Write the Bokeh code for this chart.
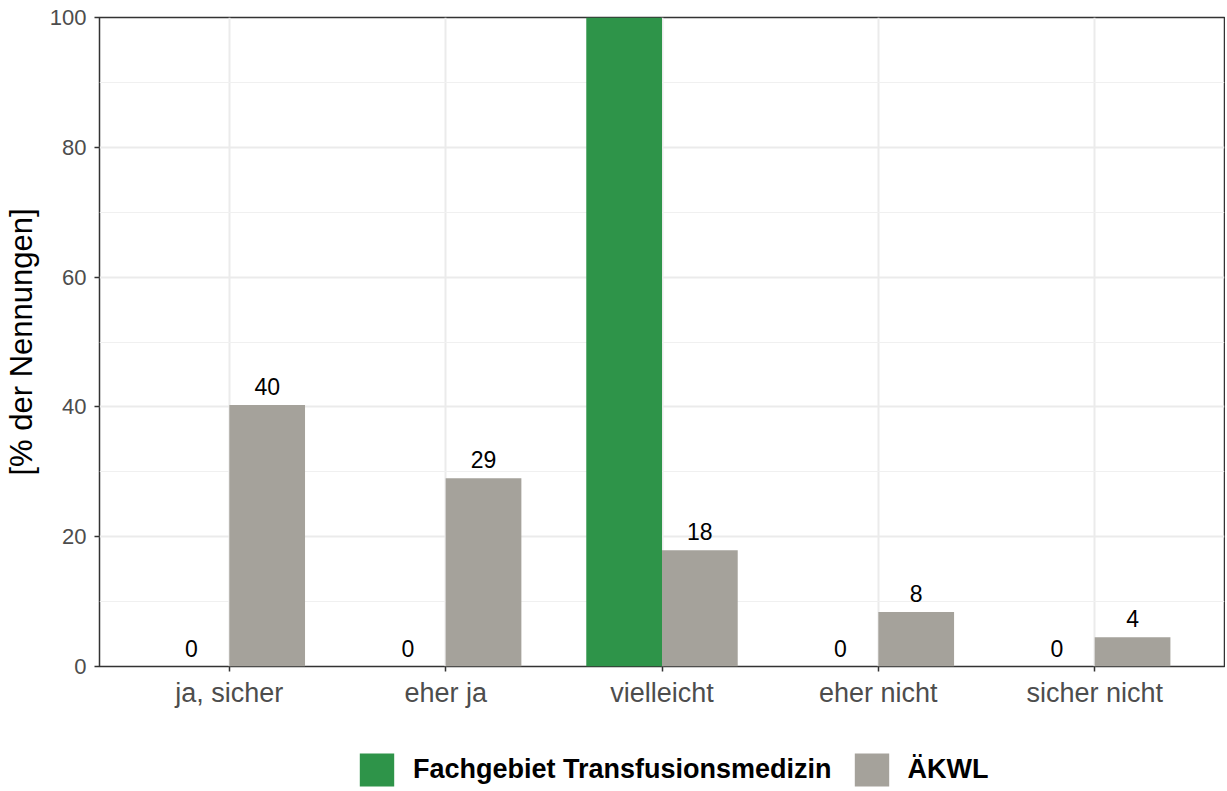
from bokeh.plotting import figure
from bokeh.layouts import column
from bokeh.models import (ColumnDataSource, Range1d, FixedTicker, Legend, LegendItem)
from bokeh.transform import dodge
from bokeh.core.properties import value
from bokeh.embed import file_html
from bokeh.resources import INLINE

categories = ["ja, sicher", "eher ja", "vielleicht", "eher nicht", "sicher nicht"]
fachgebiet = [0, 0, 100, 0, 0]
aekwl = [40.3, 29.0, 17.9, 8.4, 4.5]
series_names = ["Fachgebiet Transfusionsmedizin", "ÄKWL"]
y_ticks = [0, 20, 40, 60, 80, 100]
y_minor = [10, 30, 50, 70, 90]
Y_MAX = 100

GREEN = "#2E9449"
GRAY = "#A5A29B"
FONT = "Liberation Sans"


def lbl(v):
    # labels above the panel top are clipped away in the original
    return "" if v >= Y_MAX else f"{v:.0f}"


pos = list(range(1, len(categories) + 1))
src = ColumnDataSource(dict(
    pos=pos,
    fach=fachgebiet,
    aekwl=aekwl,
    fach_lbl=[lbl(v) for v in fachgebiet],
    aekwl_lbl=[lbl(v) for v in aekwl],
))

p = figure(frame_width=1125, frame_height=649, output_backend="svg",
           toolbar_location=None,
           x_range=Range1d(0.4, 5.6), y_range=Range1d(0, Y_MAX),
           min_border_left=99, min_border_right=1, min_border_top=17,
           min_border_bottom=60)

bw = 0.35
p.vbar(x=dodge("pos", -bw / 2), top="fach", width=bw, source=src,
       fill_color=GREEN, line_color=None)
p.vbar(x=dodge("pos", bw / 2), top="aekwl", width=bw, source=src,
       fill_color=GRAY, line_color=None)

for col, lb, off in (("fach", "fach_lbl", -bw / 2), ("aekwl", "aekwl_lbl", bw / 2)):
    p.text(x=dodge("pos", off), y=col, text=lb, source=src,
           text_align="center", text_baseline="bottom", y_offset=-10,
           text_font=value(FONT), text_font_size="23px", text_color="black")

# axes
p.xaxis.ticker = FixedTicker(ticks=pos, minor_ticks=[])
p.xaxis.major_label_overrides = {i: c for i, c in zip(pos, categories)}
p.yaxis.ticker = FixedTicker(ticks=y_ticks, minor_ticks=y_minor)
for ax in (p.xaxis[0], p.yaxis[0]):
    ax.axis_line_color = None
    ax.major_tick_line_color = "#333333"
    ax.major_tick_line_width = 1.5
    ax.major_tick_out = 5
    ax.major_tick_in = 0
    ax.minor_tick_line_color = None
    ax.major_label_text_font = FONT
    ax.major_label_text_color = "#4D4D4D"
p.yaxis.major_label_text_font_size = "22px"
p.yaxis.major_label_standoff = 8
p.xaxis.major_label_text_font_size = "27px"
p.xaxis.major_label_standoff = 6

p.yaxis.axis_label = "[% der Nennungen]"
p.yaxis.axis_label_text_font = FONT
p.yaxis.axis_label_text_font_size = "31px"
p.yaxis.axis_label_text_font_style = "normal"
p.yaxis.axis_label_text_color = "black"
p.yaxis.axis_label_standoff = 8

# grid
p.xgrid.grid_line_color = "#EBEBEB"
p.xgrid.grid_line_width = 2
p.ygrid.grid_line_color = "#EBEBEB"
p.ygrid.grid_line_width = 2
p.ygrid.minor_grid_line_color = "#F0F0F0"
p.ygrid.minor_grid_line_width = 1.2

p.outline_line_color = "#333333"
p.outline_line_width = 1.5
p.background_fill_color = "white"
p.border_fill_color = "white"

# legend strip below the chart; its key renderers have zero width and lie
# outside the strip's y range, so only their legend swatches are visible
leg = figure(width=1225, height=64, output_backend="svg", toolbar_location=None,
             x_axis_type=None, y_axis_type=None,
             x_range=Range1d(0.4, 5.6), y_range=Range1d(-2, -1),
             min_border_left=0, min_border_right=0, min_border_top=0,
             min_border_bottom=0)
leg.outline_line_color = None
leg.xgrid.visible = False
leg.ygrid.visible = False
k1 = leg.vbar(x="pos", top="fach", width=0, source=src, fill_color=GREEN, line_color=None)
k2 = leg.vbar(x="pos", top="aekwl", width=0, source=src, fill_color=GRAY, line_color=None)

legend = Legend(items=[LegendItem(label=series_names[0], renderers=[k1]),
                       LegendItem(label=series_names[1], renderers=[k2])],
                orientation="horizontal", location=(256, 0))
legend.glyph_width = 43
legend.glyph_height = 41
legend.label_standoff = 15
legend.spacing = 18
legend.padding = 0
legend.margin = 0
legend.border_line_color = None
legend.background_fill_alpha = 0
legend.label_text_font = FONT
legend.label_text_font_size = "27px"
legend.label_text_font_style = "bold"
legend.label_text_color = "black"
legend.label_height = 41
leg.add_layout(legend, "center")

layout = column(p, leg, spacing=0)
open("out.html", "w").write(file_html(layout, INLINE))
